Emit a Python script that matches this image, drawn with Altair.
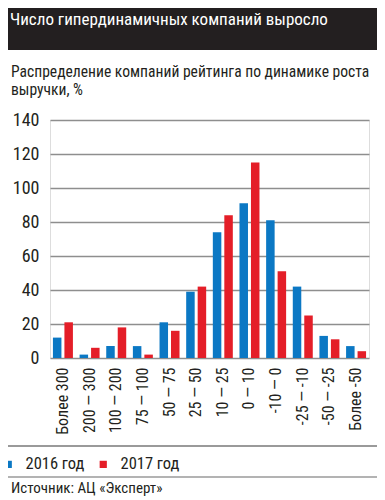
import altair as alt
import pandas as pd

title = "Число гипердинамичных компаний выросло"
subtitle1 = "Распределение компаний рейтинга по динамике роста"
subtitle2 = "выручки, %"
source = "Источник: АЦ «Эксперт»"

categories = ["Более 300", "200 — 300", "100 — 200", "75 — 100", "50 — 75", "25 — 50",
              "10 — 25", "0 — 10", "-10 — 0", "-25 — -10", "-50 — -25", "Более -50"]
series = ["2016 год", "2017 год"]
v2016 = [12, 2, 7, 7, 21, 39, 74, 91, 81, 42, 13, 7]
v2017 = [21, 6, 18, 2, 16, 42, 84, 115, 51, 25, 11, 4]
y_ticks = [0, 20, 40, 60, 80, 100, 120, 140]

FONT = "Roboto Condensed, Liberation Sans Narrow, DejaVu Sans Condensed, sans-serif"
BLUE = "#0b78c4"
RED = "#e41e28"
DARK = "#231f20"
GRID = "#8e8e8e"

rows = []
for c, a, b in zip(categories, v2016, v2017):
    rows.append({"cat": c, "year": series[0], "value": a})
    rows.append({"cat": c, "year": series[1], "value": b})
df = pd.DataFrame(rows)

bars = alt.Chart(df).mark_bar().encode(
    x=alt.X("cat:N", sort=categories,
            scale=alt.Scale(paddingInner=0.25, paddingOuter=0.11),
            axis=alt.Axis(title=None, labelAngle=-90, labelFontSize=16, labelPadding=9,
                          ticks=False, domain=False, labelFont=FONT, labelColor=DARK)),
    xOffset=alt.XOffset("year:N", sort=series,
                        scale=alt.Scale(paddingInner=0.26, paddingOuter=0)),
    y=alt.Y("value:Q", scale=alt.Scale(domain=[0, 140], nice=False),
            axis=alt.Axis(values=y_ticks, title=None, grid=True, ticks=False, domain=False,
                          labelPadding=11, labelFontSize=18, labelFont=FONT, labelColor=DARK,
                          gridColor=GRID, gridWidth=1.5)),
    color=alt.Color("year:N", sort=series,
                    scale=alt.Scale(domain=series, range=[BLUE, RED]),
                    legend=alt.Legend(orient="none", legendX=-50, legendY=336, direction="horizontal",
                                      title=None, symbolType="square", symbolSize=52,
                                      symbolStrokeWidth=0, labelFontSize=16.5, labelFont=FONT,
                                      labelColor=DARK, labelOffset=9, columnPadding=10,
                                      padding=0)),
)

one = pd.DataFrame({"a": [0]})

header = alt.Chart(one).mark_rect(color=DARK).encode(
    x=alt.value(-42), x2=alt.value(327), y=alt.value(-112), y2=alt.value(-70))

title_t = alt.Chart(pd.DataFrame({"t": [title]})).mark_text(
    align="left", baseline="alphabetic", font=FONT, fontSize=17, color="white").encode(
    x=alt.value(-40), y=alt.value(-95), text="t:N")

sub1 = alt.Chart(pd.DataFrame({"t": [subtitle1]})).mark_text(
    align="left", baseline="alphabetic", font=FONT, fontSize=15.6, color=DARK).encode(
    x=alt.value(-39), y=alt.value(-43), text="t:N")

sub2 = alt.Chart(pd.DataFrame({"t": [subtitle2]})).mark_text(
    align="left", baseline="alphabetic", font=FONT, fontSize=15.6, color=DARK).encode(
    x=alt.value(-39), y=alt.value(-25), text="t:N")

line1 = alt.Chart(one).mark_rule(color="#9a9a9a", strokeWidth=2).encode(
    x=alt.value(-42), x2=alt.value(327), y=alt.value(326))

line2 = alt.Chart(one).mark_rule(color="#9a9a9a", strokeWidth=1.5).encode(
    x=alt.value(-42), x2=alt.value(327), y=alt.value(357))

src = alt.Chart(pd.DataFrame({"t": [source]})).mark_text(
    align="left", baseline="alphabetic", font=FONT, fontSize=15, color=DARK).encode(
    x=alt.value(-39), y=alt.value(373), text="t:N")

chart = alt.layer(header, title_t, sub1, sub2, bars, line1, line2, src).properties(
    width=319, height=238,
    autosize=alt.AutoSizeParams(type="none"),
    padding={"left": 42, "top": 112, "right": 8, "bottom": 138},
).configure_view(stroke=GRID, strokeWidth=1.5).configure(background="white")

chart.save("out.html", embed_options={"renderer": "svg", "actions": False})
